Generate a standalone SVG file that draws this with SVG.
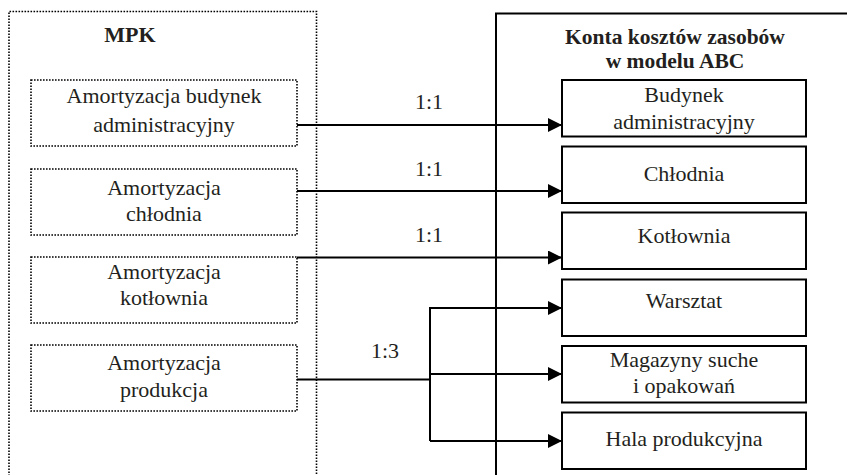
<svg xmlns="http://www.w3.org/2000/svg" width="847" height="475" viewBox="0 0 847 475">
  <defs>
    <style>
      text { font-family: 'Liberation Serif', 'Times New Roman', serif; font-size: 22px; fill: #231f20; text-anchor: middle; }
      .bold { font-weight: bold; }
      .title { font-size: 21.5px; }
      .dot { fill: none; stroke: #000; stroke-width: 1.6; stroke-dasharray: 1.6 1.4; }
      .solid { fill: none; stroke: #000; stroke-width: 2; }
      .conn { fill: none; stroke: #000; stroke-width: 2; }
    </style>
    <marker id="arrow" markerUnits="userSpaceOnUse" markerWidth="14" markerHeight="14" refX="14" refY="7" orient="auto">
      <path d="M0,0 L14,7 L0,14 Z" fill="#000"/>
    </marker>
  </defs>
  <rect width="847" height="475" fill="#fff"/>

  <!-- MPK container -->
  <g id="mpk">
    <path class="dot" d="M9,476 V11.5 H316.5 V476"/>
    <text class="bold" x="130" y="42">MPK</text>
  </g>

  <!-- ABC resource cost accounts container -->
  <g id="abc">
    <path class="solid" d="M496,476 V13.5 H848"/>
    <text class="bold title" x="675" y="44">Konta kosztów zasobów</text>
    <text class="bold title" x="675" y="67.5">w modelu ABC</text>
  </g>

  <!-- MPK items -->
  <g id="mpk-budynek">
    <rect class="dot" x="31" y="80" width="266" height="66"/>
    <text x="164" y="103">Amortyzacja budynek</text>
    <text x="164" y="132">administracyjny</text>
  </g>
  <g id="mpk-chlodnia">
    <rect class="dot" x="31" y="169" width="266" height="66"/>
    <text x="164" y="195">Amortyzacja</text>
    <text x="164" y="221">chłodnia</text>
  </g>
  <g id="mpk-kotlownia">
    <rect class="dot" x="31" y="257" width="266" height="66"/>
    <text x="164" y="279">Amortyzacja</text>
    <text x="164" y="305">kotłownia</text>
  </g>
  <g id="mpk-produkcja">
    <rect class="dot" x="31" y="345" width="266" height="66"/>
    <text x="164" y="370">Amortyzacja</text>
    <text x="164" y="397">produkcja</text>
  </g>

  <!-- ABC accounts -->
  <g id="abc-budynek">
    <rect class="solid" x="562" y="80" width="244" height="56.5"/>
    <text x="684" y="102">Budynek</text>
    <text x="684" y="129">administracyjny</text>
  </g>
  <g id="abc-chlodnia">
    <rect class="solid" x="562" y="146.5" width="244" height="56.5"/>
    <text x="684" y="181">Chłodnia</text>
  </g>
  <g id="abc-kotlownia">
    <rect class="solid" x="562" y="212.5" width="244" height="56.5"/>
    <text x="684" y="243">Kotłownia</text>
  </g>
  <g id="abc-warsztat">
    <rect class="solid" x="562" y="279.5" width="244" height="56.5"/>
    <text x="684" y="308">Warsztat</text>
  </g>
  <g id="abc-magazyny">
    <rect class="solid" x="562" y="346" width="244" height="56.5"/>
    <text x="684" y="367">Magazyny suche</text>
    <text x="684" y="393">i opakowań</text>
  </g>
  <g id="abc-hala">
    <rect class="solid" x="562" y="412.5" width="244" height="56.5"/>
    <text x="684" y="446">Hala produkcyjna</text>
  </g>

  <!-- Connectors -->
  <g id="connectors">
    <path class="conn" d="M297,125 H562" marker-end="url(#arrow)"/>
    <path class="conn" d="M297,191 H562" marker-end="url(#arrow)"/>
    <path class="conn" d="M297,257.5 H562" marker-end="url(#arrow)"/>
    <path class="conn" d="M297,379.5 H430"/>
    <path class="conn" d="M430,307 V441"/>
    <path class="conn" d="M430,308 H562" marker-end="url(#arrow)"/>
    <path class="conn" d="M430,374 H562" marker-end="url(#arrow)"/>
    <path class="conn" d="M430,441 H562" marker-end="url(#arrow)"/>
    <text x="429" y="109">1:1</text>
    <text x="429" y="176">1:1</text>
    <text x="429" y="242">1:1</text>
    <text x="385" y="358">1:3</text>
  </g>
</svg>
